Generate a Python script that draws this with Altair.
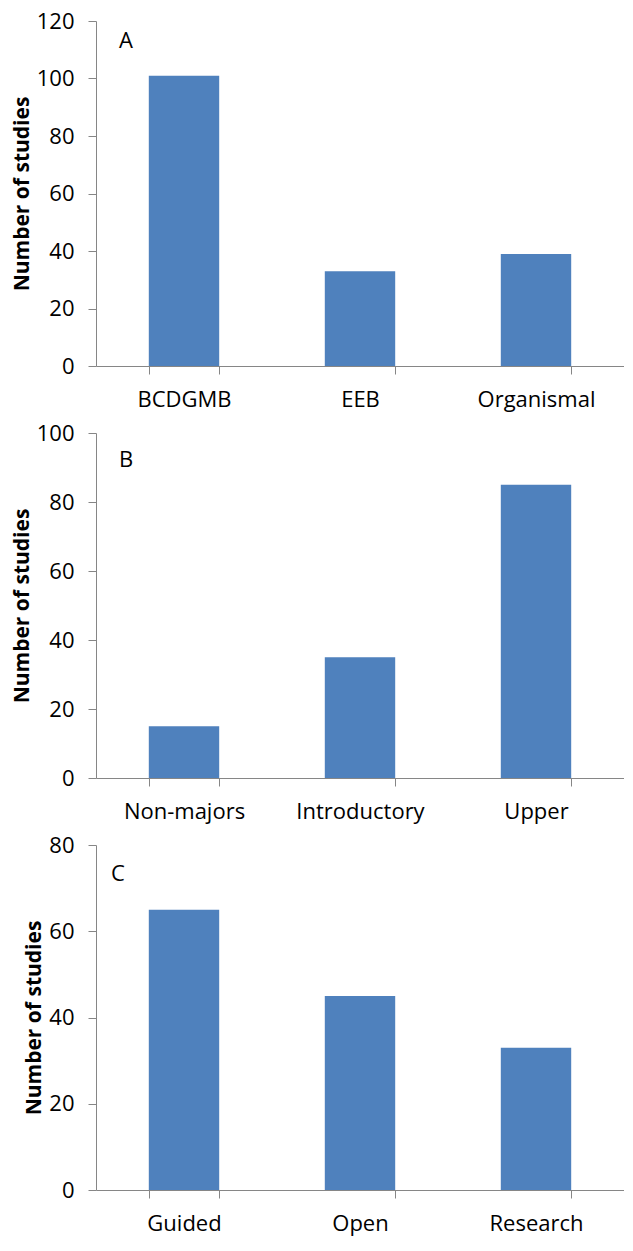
import altair as alt
import pandas as pd

# Panel A
cats_a = ["BCDGMB", "EEB", "Organismal"]
vals_a = [101, 33, 39]
# Panel B
cats_b = ["Non-majors", "Introductory", "Upper"]
vals_b = [15, 35, 85]
# Panel C
cats_c = ["Guided", "Open", "Research"]
vals_c = [65, 45, 33]

letters = ["A", "B", "C"]
y_max = [120, 100, 80]
y_step = 20

BLUE = "#4F81BD"
GREY = "#868686"
FONT = "Open Sans"
PLOT_H = 345
PLOT_W = 528


def panel(cats, vals, letter, ymax, letter_xy):
    df = pd.DataFrame({"cat": cats, "n": vals})
    x = alt.X(
        "cat:N",
        sort=cats,
        title=None,
        scale=alt.Scale(paddingInner=0.6, paddingOuter=0.3),
        axis=alt.Axis(labelAngle=0, tickBand="extent"),
    )
    y = alt.Y(
        "n:Q",
        title="Number of studies",
        scale=alt.Scale(domain=[0, ymax], nice=False, zero=True),
        axis=alt.Axis(values=list(range(0, ymax + 1, y_step)), grid=False),
    )
    bars = alt.Chart(df).mark_bar(color=BLUE).encode(x=x, y=y)
    lab = (
        alt.Chart(pd.DataFrame({"t": [letter]}))
        .mark_text(font=FONT, fontSize=22, align="center", baseline="middle", color="black")
        .encode(x=alt.value(letter_xy[0]), y=alt.value(letter_xy[1]), text="t:N")
    )
    return alt.layer(bars, lab).properties(width=PLOT_W, height=PLOT_H)


pa = panel(cats_a, vals_a, letters[0], y_max[0], (30, 20))
pb = panel(cats_b, vals_b, letters[1], y_max[1], (30, 27))
pc = panel(cats_c, vals_c, letters[2], y_max[2], (22, 29))

chart = (
    alt.vconcat(pa, pb, pc, spacing=12)
    .properties(background="white", padding={"left": 3, "top": 2, "right": 0, "bottom": 4})
    .configure_view(stroke=None)
    .configure_axis(
        domainColor=GREY,
        domainWidth=1,
        tickColor=GREY,
        tickWidth=1,
        tickSize=8,
        labelColor="black",
        labelFont=FONT,
        labelFontSize=22,
        titleFont=FONT,
        titleFontSize=21,
        titleFontWeight="bold",
        titleColor="black",
    )
    .configure_axisX(labelPadding=15)
    .configure_axisY(labelPadding=14, titlePadding=4)
)

chart.save("out.html", embed_options={"renderer": "svg", "actions": False})
